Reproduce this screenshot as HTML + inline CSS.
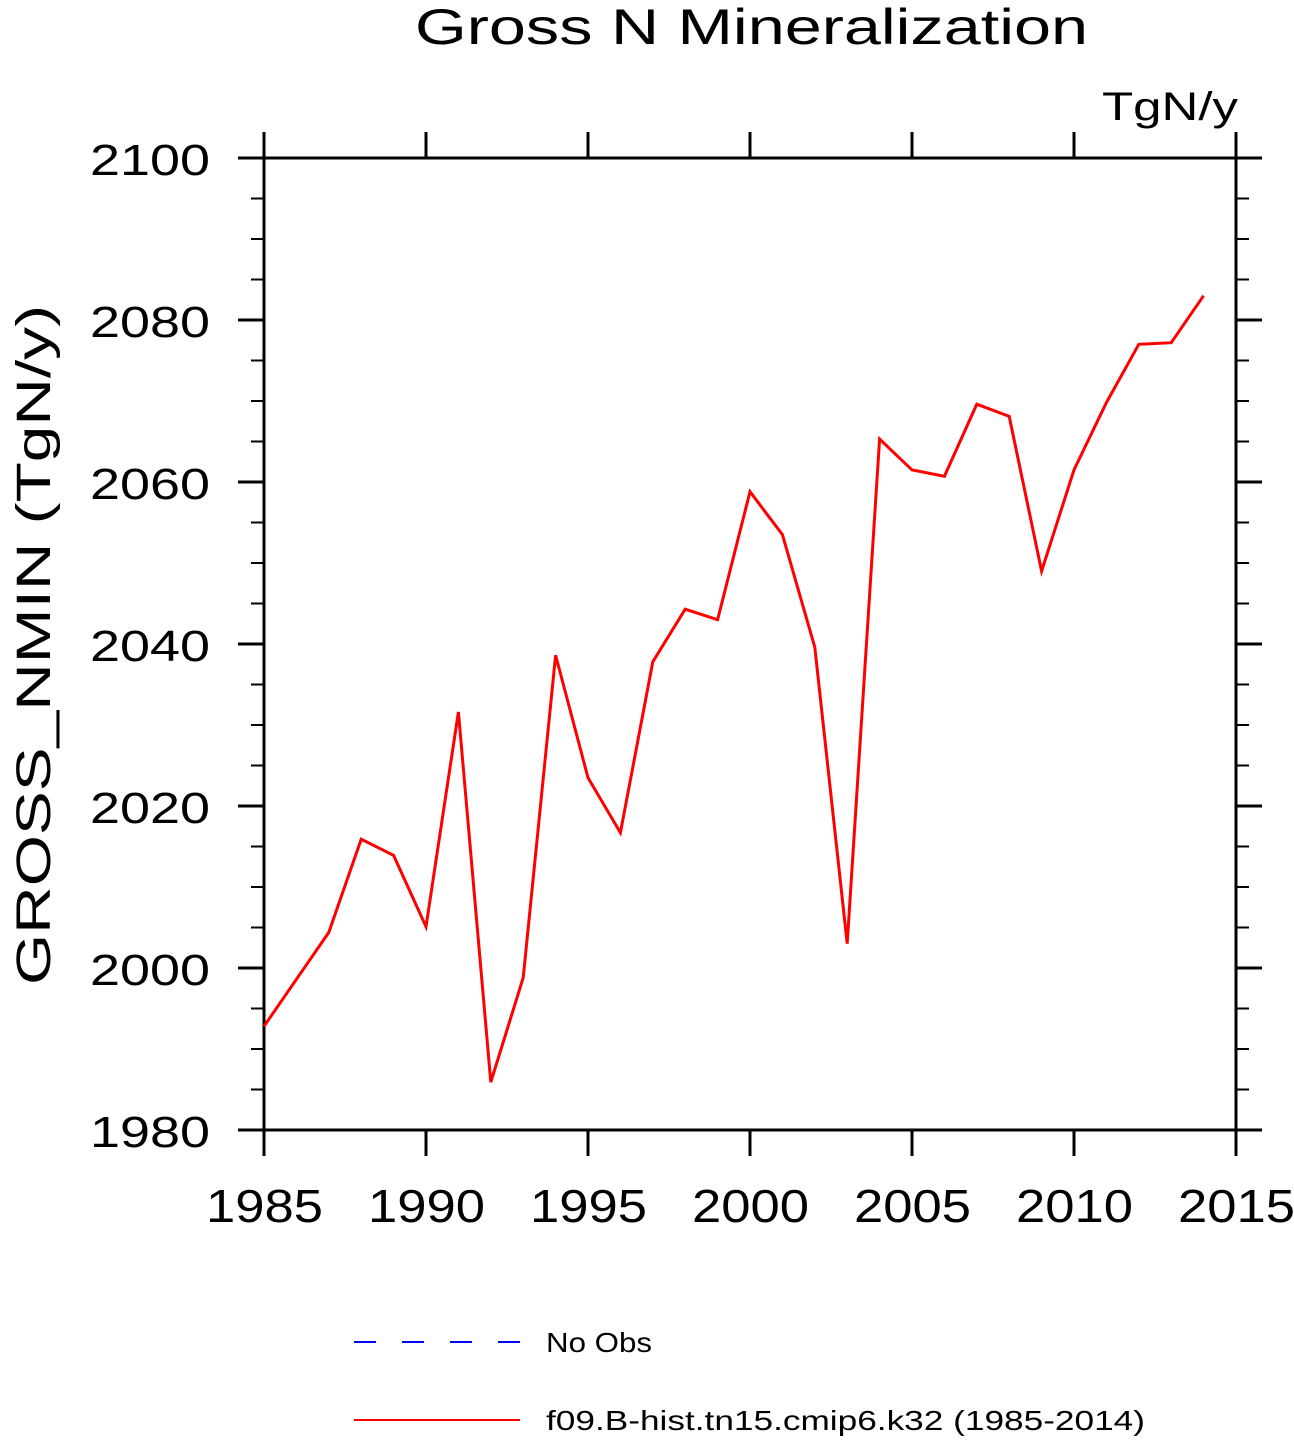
<!DOCTYPE html>
<html><head><meta charset="utf-8"><style>
html,body{margin:0;padding:0;background:#fff;}
svg text{font-family:"Liberation Sans","DejaVu Sans",sans-serif;fill:#000;}
</style></head><body>
<svg id="chart" width="1294" height="1438" viewBox="0 0 1294 1438" xmlns="http://www.w3.org/2000/svg">
<text x="415" y="44" font-size="50" textLength="673" lengthAdjust="spacingAndGlyphs">Gross N Mineralization</text>
<text x="1102" y="120" font-size="40" textLength="136" lengthAdjust="spacingAndGlyphs">TgN/y</text>
<text transform="translate(50,985) rotate(-90)" font-size="48" textLength="680" lengthAdjust="spacingAndGlyphs">GROSS_NMIN  (TgN/y)</text>
<g id="axes"></g>
<g id="series"></g>
<g>
<line x1="354" y1="1342" x2="520" y2="1342" stroke="#0000ff" stroke-width="2" stroke-dasharray="22,26"/>
<text x="546" y="1352" font-size="28" textLength="106" lengthAdjust="spacingAndGlyphs">No Obs</text>
<line x1="354" y1="1420" x2="520" y2="1420" stroke="#ff0000" stroke-width="2"/>
<text x="546" y="1430" font-size="28" textLength="599" lengthAdjust="spacingAndGlyphs">f09.B-hist.tn15.cmip6.k32 (1985-2014)</text>
</g>
</svg>
<script>
const years = [1985,1986,1987,1988,1989,1990,1991,1992,1993,1994,1995,1996,1997,1998,1999,2000,2001,2002,2003,2004,2005,2006,2007,2008,2009,2010,2011,2012,2013,2014];
const values = [1992.8,1998.6,2004.4,2015.9,2013.9,2005.1,2031.6,1985.9,1998.8,2038.6,2023.5,2016.7,2037.8,2044.3,2043.0,2058.8,2053.5,2039.6,2003.0,2065.3,2061.5,2060.7,2069.6,2068.1,2049.0,2061.5,2069.8,2077.0,2077.2,2083.0];
const xTicks = [1985,1990,1995,2000,2005,2010,2015];
const yTicks = [1980,2000,2020,2040,2060,2080,2100];

const X0=264,X1=1236,Y0=1130,Y1=158;
const xMin=1985,xMax=2015,yMin=1980,yMax=2100;
function sx(v){return X0+(v-xMin)/(xMax-xMin)*(X1-X0);}
function sy(v){return Y0-(v-yMin)/(yMax-yMin)*(Y0-Y1);}
const NS="http://www.w3.org/2000/svg";
const axes=document.getElementById('axes');
function mk(tag,attrs,parent){const e=document.createElementNS(NS,tag);for(const k in attrs)e.setAttribute(k,attrs[k]);parent.appendChild(e);return e;}

const frame=mk('rect',{x:X0,y:Y1,width:X1-X0,height:Y0-Y1,fill:'none',stroke:'#000','stroke-width':3},axes);



for(let v=yMin;v<=yMax;v+=5){
  const major=(v%20===0);const y=sy(v);const len=major?26:13;
  const l=mk('line',{x1:X0-len,y1:y,x2:X0,y2:y,stroke:'#000','stroke-width':major?3:2},axes);
  
  
  const r=mk('line',{x1:X1,y1:y,x2:X1+len,y2:y,stroke:'#000','stroke-width':major?3:2},axes);
  
  
}
yTicks.forEach(v=>{
  const t=mk('text',{x:90,y:sy(v)+17,'font-size':44,textLength:120,lengthAdjust:'spacingAndGlyphs'},axes);
  t.textContent=v;
  
  
});
xTicks.forEach(v=>{
  const x=sx(v);
  const a=mk('line',{x1:x,y1:Y1-26,x2:x,y2:Y1,stroke:'#000','stroke-width':3},axes);
  
  
  const b=mk('line',{x1:x,y1:Y0,x2:x,y2:Y0+26,stroke:'#000','stroke-width':3},axes);
  
  
  const t=mk('text',{x:x-58,y:1222,'font-size':46,textLength:117,lengthAdjust:'spacingAndGlyphs'},axes);
  t.textContent=v;
  
  
});
const pts=years.map((y,i)=>sx(y).toFixed(1)+','+sy(values[i]).toFixed(1)).join(' ');
const line=mk('polyline',{points:pts,fill:'none',stroke:'#ff0000','stroke-width':3,'stroke-linejoin':'miter'},document.getElementById('series'));


</script>
</body></html>
